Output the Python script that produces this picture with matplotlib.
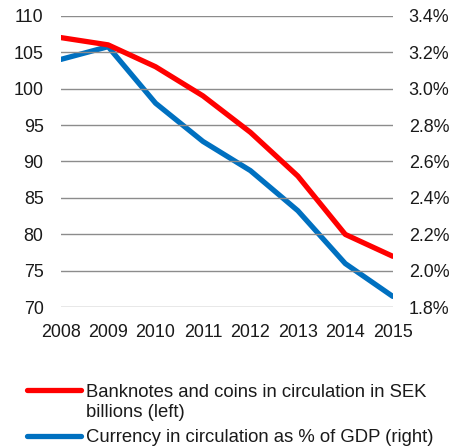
import matplotlib
matplotlib.use("Agg")
import matplotlib.pyplot as plt
from matplotlib.lines import Line2D
from matplotlib.ticker import FuncFormatter

years = [2008, 2009, 2010, 2011, 2012, 2013, 2014, 2015]
banknotes_sek_bn = [107, 106, 103, 99, 94, 88, 80, 77]
currency_pct_gdp = [3.16, 3.23, 2.92, 2.71, 2.55, 2.33, 2.04, 1.86]
left_ticks = [70, 75, 80, 85, 90, 95, 100, 105, 110]
right_ticks = [1.8, 2.0, 2.2, 2.4, 2.6, 2.8, 3.0, 3.2, 3.4]
label_red_lines = ["Banknotes and coins in circulation in SEK", "billions (left)"]
label_blue = "Currency in circulation as % of GDP (right)"

plt.rcParams['font.family'] = ['Liberation Sans', 'DejaVu Sans']
fs = 12.9
fs_leg = 13.3
red = '#FF0000'
blue = '#0070C0'
txt = '#1a1a1a'

fig = plt.figure(figsize=(4.51, 4.48), dpi=100)
ax = fig.add_axes([60.7/451, 1-307.3/448, (392.7-60.7)/451, (307.3-15.7)/448])
ax2 = ax.twinx()

for a in (ax, ax2):
    for s in a.spines.values():
        s.set_visible(False)
    a.tick_params(length=0, labelsize=fs, labelcolor=txt)

ax.set_ylim(70, 110)
ax.set_yticks(left_ticks)
ax.grid(axis='y', color='#8c8c8c', linewidth=1.0)
ax.set_axisbelow(True)
ax.set_xlim(2008, 2015)
ax.set_xticks(years)
ax.set_xticklabels([str(y) for y in years])
ax.tick_params(axis='y', pad=12.3)
ax.tick_params(axis='x', pad=12)

ax2.set_ylim(1.8, 3.4)
ax2.set_yticks(right_ticks)
ax2.yaxis.set_major_formatter(FuncFormatter(lambda v, p: f"{v:.1f}%"))
ax2.tick_params(axis='y', pad=11.5)

ax.plot(years, banknotes_sek_bn, color=red, linewidth=3.8, solid_capstyle='round', zorder=3)
ax2.plot(years, currency_pct_gdp, color=blue, linewidth=3.8, solid_capstyle='round', zorder=3)
ax.set_zorder(ax2.get_zorder() + 1)
ax.patch.set_visible(False)

# legend
fig.lines.append(Line2D([27/451, 81/451], [1-390/448, 1-390/448], transform=fig.transFigure,
                        color=red, linewidth=3.8, solid_capstyle='round'))
fig.lines.append(Line2D([27/451, 81/451], [1-436/448, 1-436/448], transform=fig.transFigure,
                        color=blue, linewidth=3.8, solid_capstyle='round'))
fig.text(86/451, 1-396.7/448, label_red_lines[0], fontsize=fs_leg, va='baseline', ha='left', color=txt)
fig.text(86/451, 1-417/448, label_red_lines[1], fontsize=fs_leg, va='baseline', ha='left', color=txt)
fig.text(86/451, 1-442.3/448, label_blue, fontsize=fs_leg, va='baseline', ha='left', color=txt)

fig.savefig("out.png", dpi=100)
